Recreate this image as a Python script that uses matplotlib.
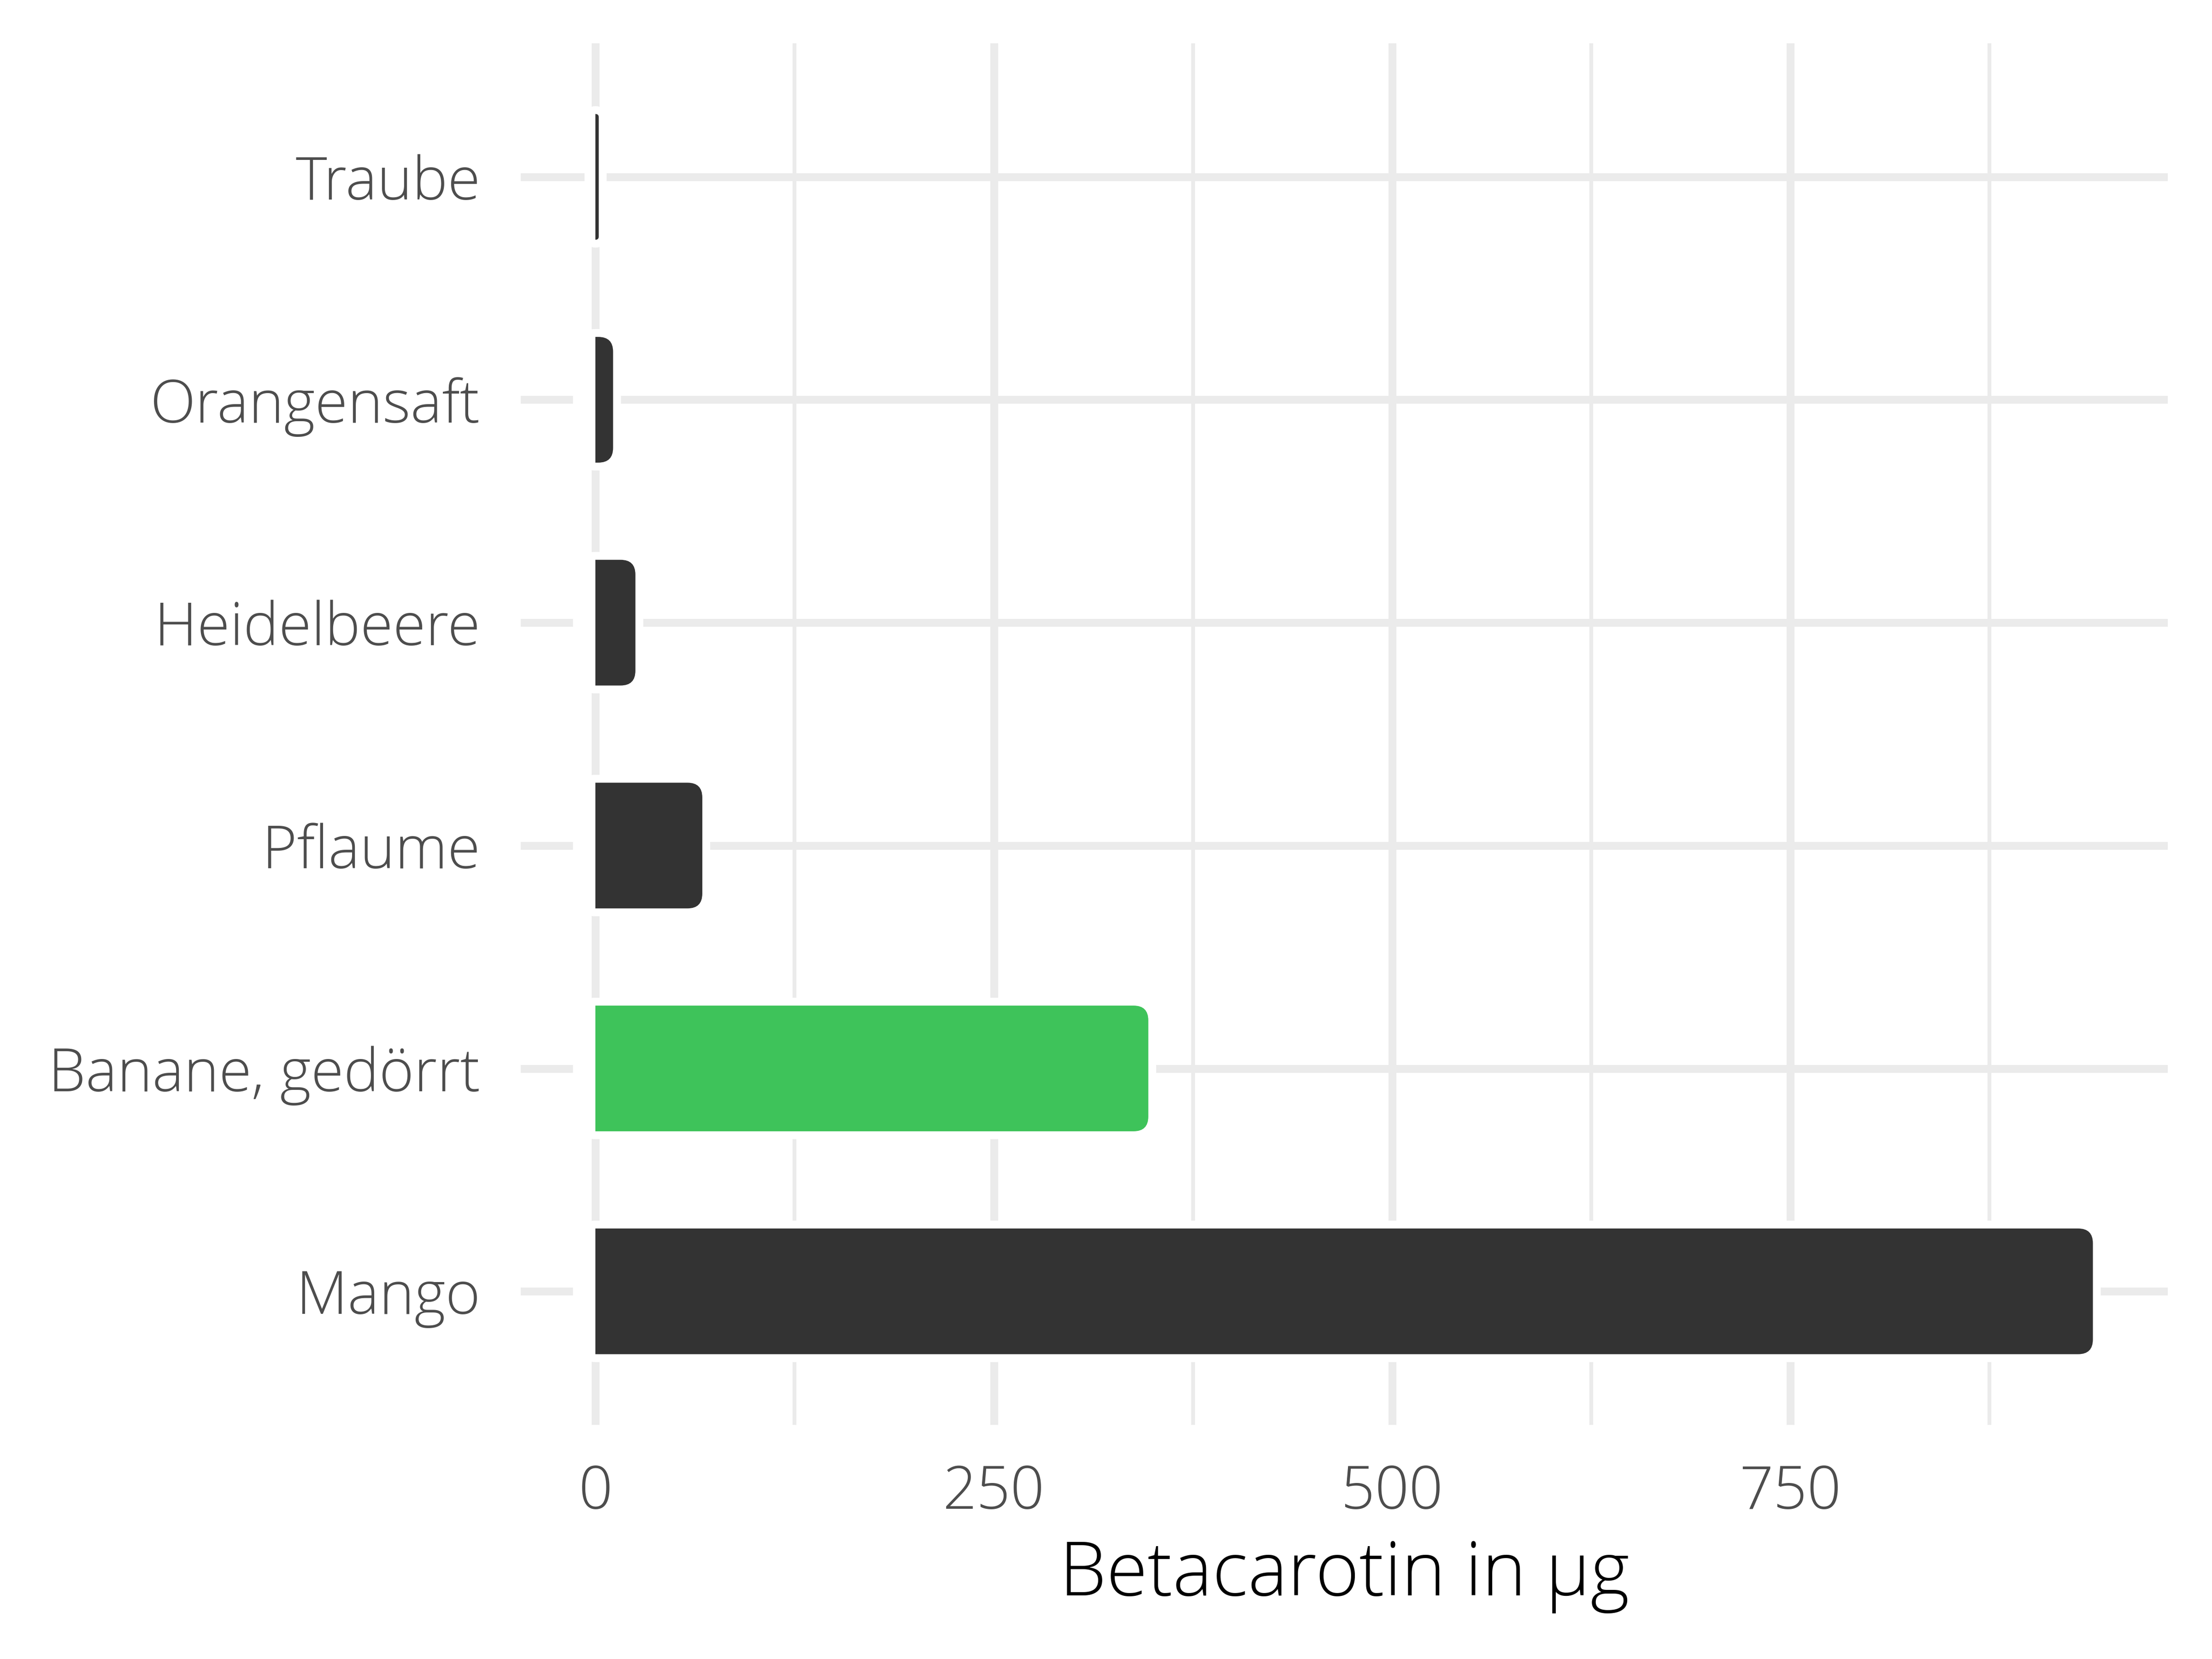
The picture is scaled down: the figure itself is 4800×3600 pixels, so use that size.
import matplotlib
matplotlib.use('Agg')
import matplotlib.pyplot as plt
from matplotlib.patches import FancyBboxPatch, Rectangle

# data (bottom to top)
fruits = ['Mango', 'Banane, gedörrt', 'Pflaume', 'Heidelbeere', 'Orangensaft', 'Traube']
betacarotin = [940, 347, 67, 25, 11, 2]
bar_colors = ['#333333', '#3EC35A', '#333333', '#333333', '#333333', '#333333']
x_ticks = [0, 250, 500, 750]

plt.rcParams['font.family'] = ['Open Sans', 'DejaVu Sans']

fig = plt.figure(figsize=(16, 12), dpi=300)
ax = fig.add_axes([0.2354, 0.141, 0.9448 - 0.2354 + 0.0352, 0.974 - 0.141])

xmax = max(betacarotin)
ax.set_xlim(-0.05 * xmax, 1.05 * xmax)
ax.set_ylim(0.4, len(fruits) + 0.6)

# grid like theme_minimal
ax.set_xticks(x_ticks)
ax.set_xticks([125, 375, 625, 875], minor=True)
ax.set_yticks(range(1, len(fruits) + 1))
ax.set_yticklabels(fruits)
ax.grid(True, which='major', color='#EBEBEB', linewidth=4.1)
ax.grid(True, which='minor', axis='x', color='#EBEBEB', linewidth=2.0)
ax.set_axisbelow(True)
for s in ax.spines.values():
    s.set_visible(False)
ax.tick_params(which='both', length=0)
ax.tick_params(axis='y', labelsize=31, labelcolor='#4D4D4D', pad=21)
ax.tick_params(axis='x', labelsize=31, labelcolor='#4D4D4D', pad=20)
for lab in ax.get_xticklabels() + ax.get_yticklabels():
    lab.set_fontweight('light')
ax.set_xlabel('Betacarotin in µg', fontsize=39, color='black', labelpad=8, fontweight='light')

# rounded bars, square at the zero side
fig.canvas.draw()
p0 = ax.transData.transform((0, 0))
p1 = ax.transData.transform((1, 1))
aspect = (p1[0] - p0[0]) / (p1[1] - p0[1])
r_px = 32
r_x = r_px / (p1[0] - p0[0])
bar_h = 0.564

clip_rect = Rectangle((0, 0), 2 * xmax, len(fruits) + 2, transform=ax.transData)
for i, (val, col) in enumerate(zip(betacarotin, bar_colors)):
    y = i + 1
    r = min(r_x, val)
    style = 'round,pad=0,rounding_size=%f' % r
    halo = FancyBboxPatch((-r, y - bar_h / 2), val + r, bar_h, boxstyle=style,
                          mutation_aspect=aspect, facecolor='white',
                          edgecolor='white', linewidth=8.2, zorder=2)
    ax.add_patch(halo)
    bar = FancyBboxPatch((-r, y - bar_h / 2), val + r, bar_h, boxstyle=style,
                         mutation_aspect=aspect, facecolor=col,
                         edgecolor='none', linewidth=0, zorder=3)
    ax.add_patch(bar)
    bar.set_clip_path(clip_rect)

fig.savefig('out.png', dpi=300, facecolor='white')
